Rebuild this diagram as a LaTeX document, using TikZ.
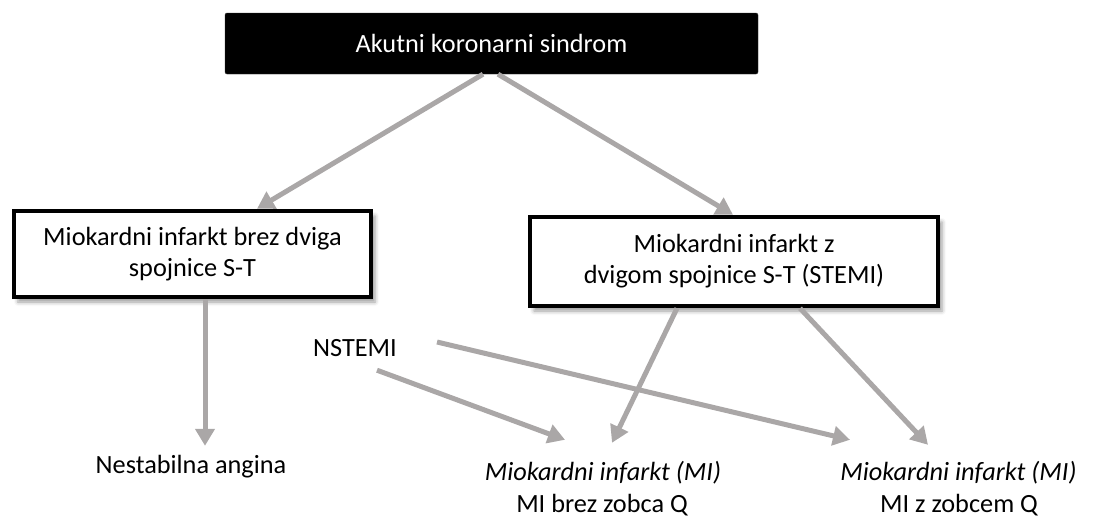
\documentclass[tikz,border=0pt]{standalone}
\usepackage{fontspec}
\setmainfont{Carlito}
\usetikzlibrary{arrows.meta,shadows.blur}
\definecolor{arrowgray}{RGB}{170,167,167}
\begin{document}
\begin{tikzpicture}[x=1pt,y=-1pt,
  every node/.style={font=\fontsize{26.3}{31}\selectfont},
  conn/.style={draw=arrowgray,line width=5pt,-{Triangle[length=17pt,width=19pt]}},
  topbox/.style={fill=black,draw=black!80,rounded corners=2pt,text=white,inner sep=0pt},
  box/.style={draw=black,line width=4.5pt,fill=white,align=center,inner sep=0pt,
    blur shadow={shadow xshift=4pt,shadow yshift=-5pt,shadow blur radius=4pt,shadow opacity=40}},
  plain/.style={inner sep=0pt,text height=18pt,text depth=6pt}]
\useasboundingbox (0,0) rectangle (1097,517);
\node[topbox,minimum width=533pt,minimum height=61pt] (top) at (491.5,43.5) {Akutni koronarni sindrom};
\node[box,minimum width=357pt,minimum height=86pt] (left) at (192.5,254) {Miokardni infarkt brez dviga\\spojnice S-T};
\node[box,minimum width=408pt,minimum height=89pt] (right) at (734,261.5) {Miokardni infarkt z\\dvigom spojnice S-T (STEMI)};
\node[plain] (nest) at (191,467) {Nestabilna angina};
\node[plain] (nstemi) at (355,350) {NSTEMI};
\node[plain] (mi1t) at (603,474) {\itshape Miokardni infarkt (MI)};
\node[plain] (mi1b) at (602,506) {MI brez zobca Q};
\node[plain] (mi2t) at (958.5,474) {\itshape Miokardni infarkt (MI)};
\node[plain] (mi2b) at (959,506) {MI z zobcem Q};
\draw[conn] ([xshift=-8.5pt]top.south) -- ([xshift=64.5pt]left.north);
\draw[conn] ([xshift=6.5pt]top.south) -- ([xshift=-1pt]right.north);
\draw[conn] ([xshift=12.5pt]left.south) -- ([xshift=14pt,yshift=9pt]nest.north);
\draw[conn] ([xshift=22pt,yshift=-8pt]nstemi.south) -- ([xshift=-38pt,yshift=22pt]mi1t.north);
\draw[conn] ([xshift=40pt,yshift=8pt]nstemi.east) -- ([xshift=-108.5pt,yshift=22pt]mi2t.north);
\draw[conn] ([xshift=-57pt]right.south) -- ([xshift=9pt,yshift=19pt]mi1t.north);
\draw[conn] ([xshift=66pt]right.south) -- ([xshift=-30.5pt,yshift=17pt]mi2t.north);
\end{tikzpicture}
\end{document}
